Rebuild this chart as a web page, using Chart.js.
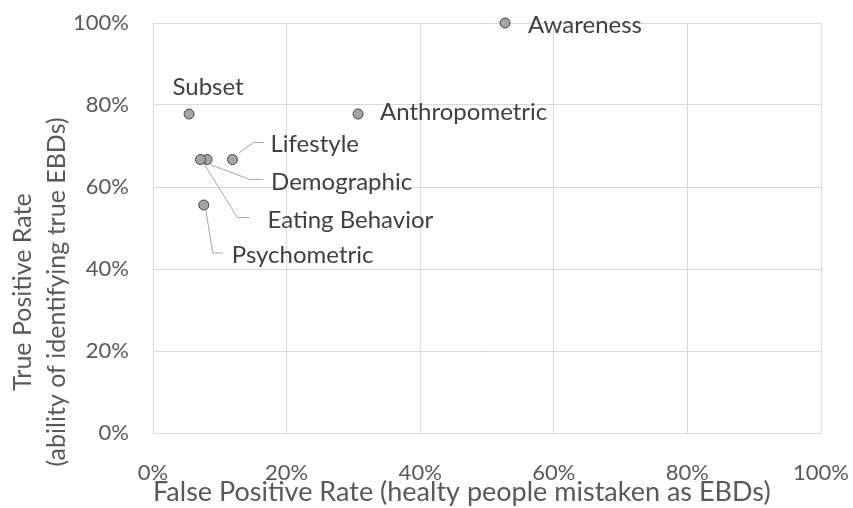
<!DOCTYPE html>
<html><head><meta charset="utf-8">
<script src="https://cdn.jsdelivr.net/npm/chart.js@4"></script>
<style>html,body{margin:0;padding:0;background:#fff}#wrap{width:853px;height:508px}</style>
</head><body><div id="wrap"><canvas id="c" width="853" height="508"></canvas></div>
<script>
const labels = ["Awareness","Anthropometric","Subset","Lifestyle","Demographic","Eating Behavior","Psychometric"];
const fprValues = [0.527, 0.307, 0.054, 0.119, 0.081, 0.071, 0.076];
const tprValues = [1.000, 0.778, 0.778, 0.667, 0.667, 0.667, 0.556];
const tickValues = [0, 0.2, 0.4, 0.6, 0.8, 1.0];
const xTitle = "False Positive Rate (healty people mistaken as EBDs)";
const yTitle = ["True Positive Rate", "(ability of identifying true EBDs)"];

const points = labels.map((l, i) => ({x: fprValues[i], y: tprValues[i]}));

// label placement relative to each point (pixels)
const placement = {
  "Awareness": {dx: 23, dy: 2, align: "left"},
  "Anthropometric": {dx: 22, dy: -2, align: "left"},
  "Subset": {dx: 19, dy: -27, align: "center"},
  "Lifestyle": {dx: 38, dy: -15, align: "left", leader: [[7,-7],[21,-17],[31,-17]]},
  "Demographic": {dx: 64, dy: 23, align: "left", leader: [[3,5],[43,20],[56,20]]},
  "Eating Behavior": {dx: 67, dy: 61, align: "left", leader: [[4,5],[37,58],[49,58]]},
  "Psychometric": {dx: 28, dy: 50, align: "left", leader: [[2,5],[9,48],[19,48]]}
};

const labelPlugin = {
  id: 'pointLabels',
  afterDatasetsDraw(chart) {
    const ctx = chart.ctx;
    const meta = chart.getDatasetMeta(0);
    ctx.save();
    meta.data.forEach((el, i) => {
      const p = placement[labels[i]];
      if (!p) return;
      if (p.leader) {
        ctx.beginPath();
        ctx.strokeStyle = '#a6a6a6';
        ctx.lineWidth = 1;
        p.leader.forEach((pt, k) => {
          const px = el.x + pt[0], py = el.y + pt[1];
          if (k === 0) ctx.moveTo(px, py); else ctx.lineTo(px, py);
        });
        ctx.stroke();
      }
      ctx.fillStyle = '#404040';
      ctx.font = '24px Lato';
      ctx.textAlign = p.align;
      ctx.textBaseline = 'middle';
      ctx.fillText(labels[i], el.x + p.dx, el.y + p.dy);
    });
    ctx.restore();
  }
};

// y-axis title: two rotated, centered lines
const yTitlePlugin = {
  id: 'yTitle',
  afterDraw(chart) {
    const ctx = chart.ctx;
    const lineX = [23, 57];
    ctx.save();
    ctx.fillStyle = '#595959';
    ctx.font = '25px Lato';
    ctx.textAlign = 'center';
    ctx.textBaseline = 'middle';
    yTitle.forEach((t, i) => {
      ctx.save();
      ctx.translate(lineX[i], 292);
      ctx.rotate(-Math.PI / 2);
      ctx.fillText(t, 0, 0);
      ctx.restore();
    });
    ctx.restore();
  }
};

const pct = v => Math.round(v * 100) + '%';

new Chart(document.getElementById('c'), {
  type: 'scatter',
  data: {datasets: [{
    data: points,
    backgroundColor: '#a5a5a5',
    borderColor: '#404040',
    borderWidth: 1,
    pointRadius: 5,
    pointHoverRadius: 5,
    clip: false
  }]},
  options: {
    responsive: false,
    animation: false,
    events: [],
    layout: {autoPadding: false, padding: {top: 23, right: 32, left: 0, bottom: 0}},
    plugins: {legend: {display: false}, tooltip: {enabled: false}},
    scales: {
      x: {
        type: 'linear', min: 0, max: 1,
        afterBuildTicks: s => { s.ticks = tickValues.map(v => ({value: v})); },
        ticks: {callback: pct, color: '#595959', font: {family: 'Lato', size: 22}, padding: 27},
        grid: {color: '#d9d9d9', drawTicks: false},
        border: {color: '#d9d9d9'},
        title: {display: true, text: xTitle, align: 'start', color: '#595959', font: {family: 'Lato', size: 27}, padding: {top: 0, bottom: 0}},
        afterFit: s => { s.height = 508 - 433; s.paddingLeft = 0; s.paddingRight = 0; }
      },
      y: {
        type: 'linear', min: 0, max: 1,
        afterBuildTicks: s => { s.ticks = tickValues.map(v => ({value: v})); },
        ticks: {callback: pct, color: '#595959', font: {family: 'Lato', size: 22}, padding: 24},
        grid: {color: '#d9d9d9', drawTicks: false},
        border: {color: '#d9d9d9'},
        title: {display: false},
        afterFit: s => { s.width = 153; s.paddingTop = 0; s.paddingBottom = 0; }
      }
    }
  },
  plugins: [labelPlugin, yTitlePlugin]
});
</script></body></html>
